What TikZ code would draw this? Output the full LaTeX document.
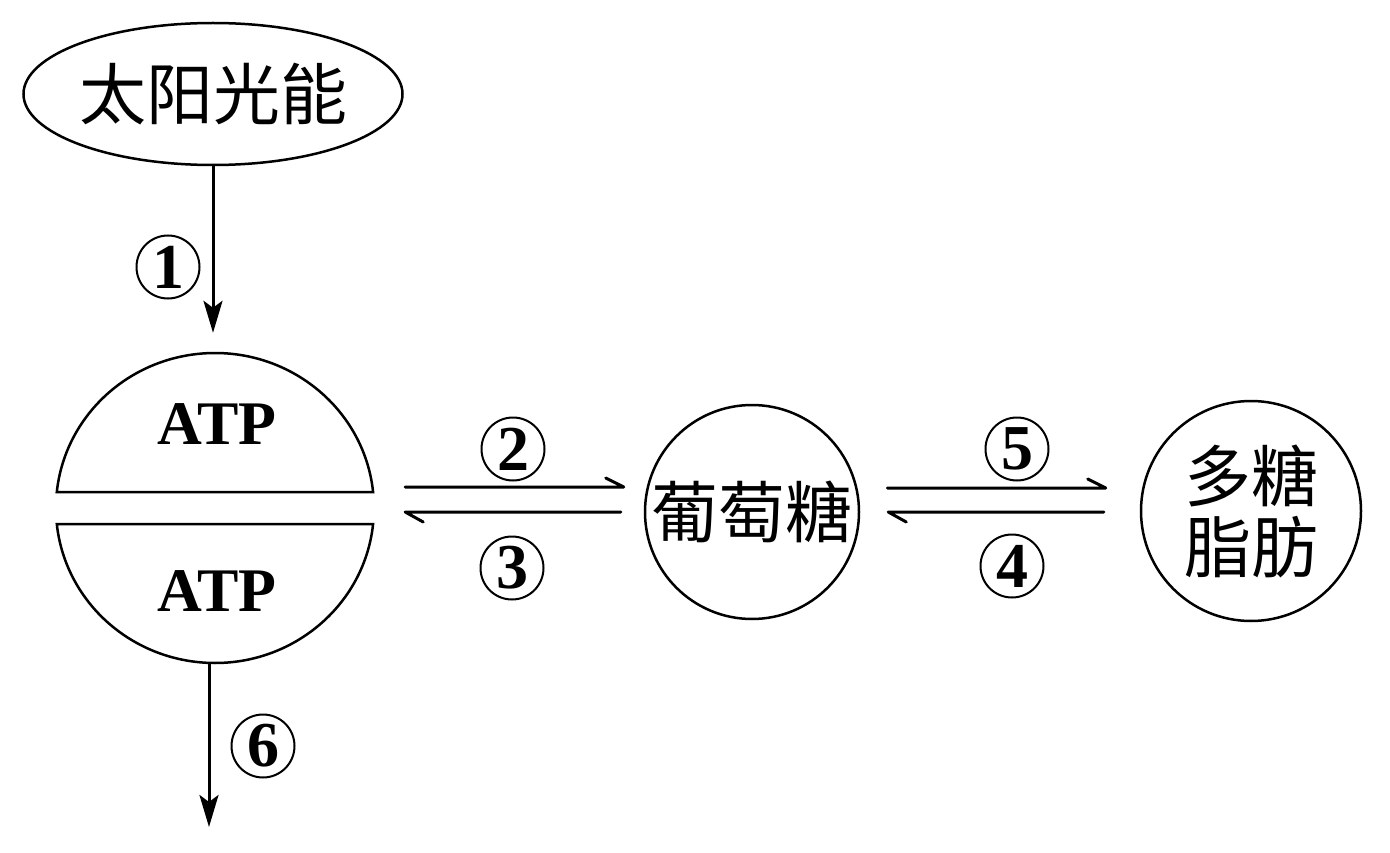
\documentclass[tikz,border=0pt]{standalone}
\usepackage{fontspec}
\setmainfont{Liberation Serif}
\newfontfamily\cjk{Noto Sans CJK SC}
\usetikzlibrary{arrows.meta,shapes.geometric}
\tikzset{
  outline/.style={draw, line width=2.5pt},
  cjktext/.style={font=\cjk\fontsize{67}{71}\selectfont},
  atptext/.style={font=\bfseries\fontsize{62}{62}\selectfont, inner sep=0},
  cnum/.style={circle, draw, line width=2pt, minimum size=63pt, inner sep=0,
    font=\bfseries\fontsize{64}{64}\selectfont},
  arr/.style={line width=3pt, -{Stealth[length=32pt,width=19pt,inset=7pt]}},
  harp/.style={line width=3pt, line cap=round, line join=round},
}
\begin{document}
\begin{tikzpicture}[x=1pt,y=-1pt]
\useasboundingbox (0,0) rectangle (1390,853);
% nodes
\node[outline, ellipse, minimum width=378pt, minimum height=142pt, inner sep=0, cjktext] (sun) at (213,94) {太阳光能};
\node[ellipse, minimum width=318pt, minimum height=310pt, inner sep=0] (atp) at (215,508) {};
\draw[outline] (373.1,492) arc[start angle=-5.93, end angle=-174.07, x radius=159, y radius=155] -- cycle;
\draw[outline] (373.1,524) arc[start angle=5.93, end angle=174.07, x radius=159, y radius=155] -- cycle;
\node[atptext] (atpU) at (217,424) {ATP};
\node[atptext] (atpL) at (217,591) {ATP};
\node[outline, circle, minimum size=214pt, inner sep=0, cjktext] (glu) at (752,512) {\makebox[0pt]{葡萄糖}};
\node[outline, circle, minimum size=220pt, inner sep=0, cjktext, align=center] (poly) at (1251,511) {多糖\\脂肪};
% vertical arrows
\draw[arr, shorten >=20pt] (sun.south) -- (sun.south |- atp.north);
\coordinate (end6) at (209,827);
\draw[arr] (end6 |- atp.south) -- (end6);
% harpoons between ATP and glucose
\path (atp.east) ++(31,-21) coordinate (s2);
\path (glu.west) ++(-20,-25) coordinate (e2);
\draw[harp] (s2) -- (e2) -- ++(-18,-9);
\path (glu.west) ++(-23,0) coordinate (s3);
\path (atp.east) ++(31,4) coordinate (e3);
\draw[harp] (s3) -- (e3) -- ++(18,10);
% harpoons between glucose and polysaccharide
\path (glu.east) ++(27,-24) coordinate (s5);
\path (poly.west) ++(-34,-23) coordinate (e5);
\draw[harp] (s5) -- (e5) -- ++(-18,-9);
\path (poly.west) ++(-36,1) coordinate (s4);
\path (glu.east) ++(28,0) coordinate (e4);
\draw[harp] (s4) -- (e4) -- ++(18,10);
% labels
\node[cnum] (n1) at (168,267) {1};
\node[cnum] (n2) at (513,449) {2};
\node[cnum] (n3) at (512,568) {3};
\node[cnum] (n5) at (1017,449) {5};
\node[cnum] (n4) at (1012,566) {4};
\node[cnum] (n6) at (263,746) {6};
\end{tikzpicture}
\end{document}
